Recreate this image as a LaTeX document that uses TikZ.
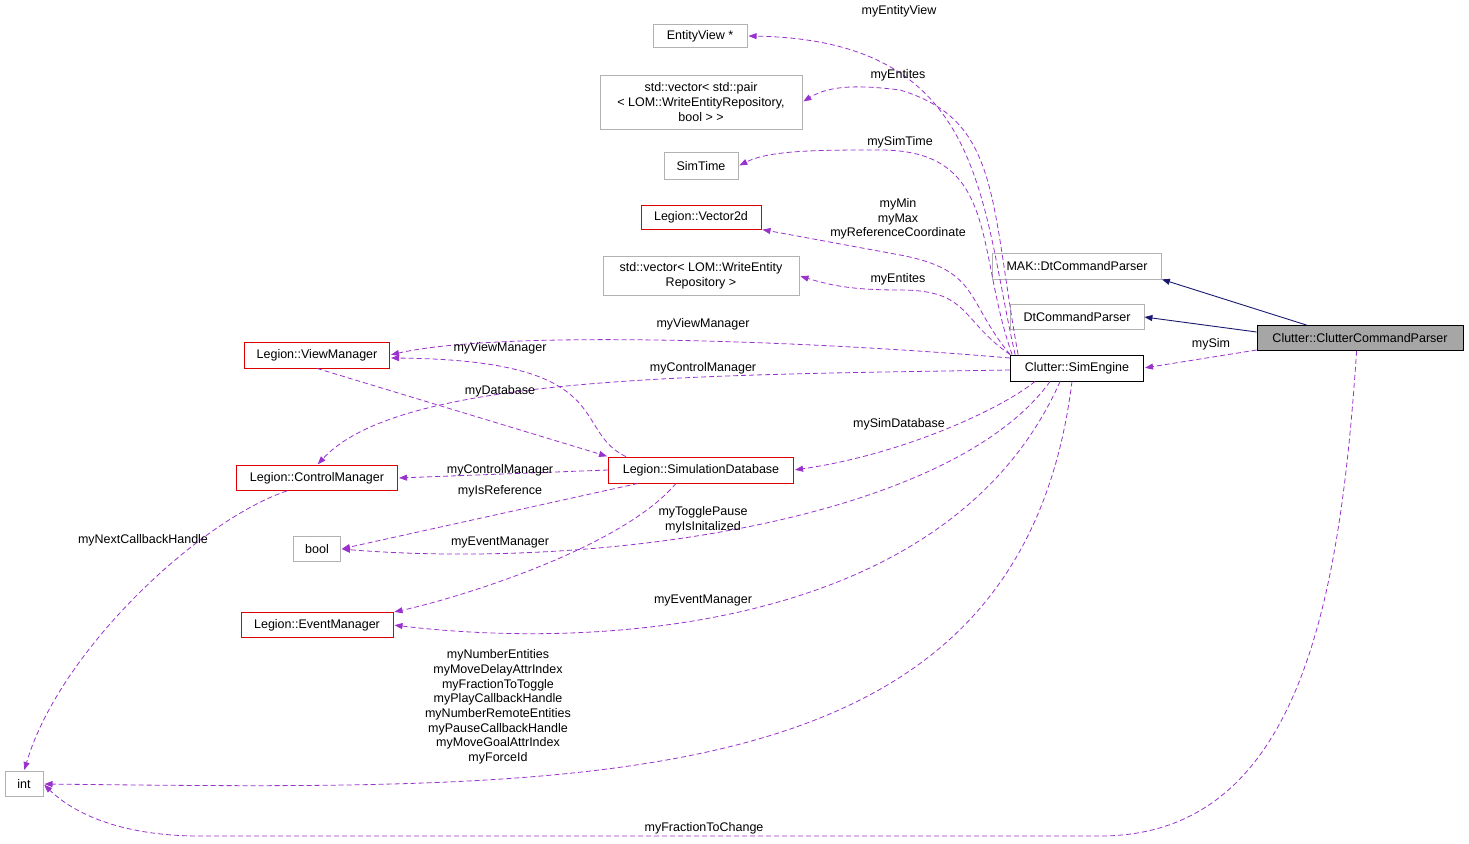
\documentclass[tikz,border=0pt]{standalone}
\usepackage{fontspec}
\setmainfont{Liberation Sans}
\usetikzlibrary{arrows.meta}
\definecolor{edg}{RGB}{153,50,204}
\definecolor{navy}{RGB}{25,25,112}
\definecolor{rbox}{RGB}{220,0,0}
\begin{document}
\begin{tikzpicture}[x=1pt,y=-1pt,
 every node/.style={font=\fontsize{12.5}{14.7}\selectfont},
 box/.style={draw=black!30,fill=white,inner sep=0pt,align=center,line width=0.8pt},
 redbox/.style={box,draw=rbox},
 cls/.style={box,draw=black},
 rel/.style={draw=edg,line width=0.8pt,dash pattern=on 5pt off 3pt,-{Triangle[length=8pt,width=6pt,fill=edg,sep]}},
 inh/.style={draw=navy,line width=0.9pt,-{Triangle[length=8pt,width=6pt,fill=navy]}},
 lab/.style={inner sep=0pt,align=center}]
\useasboundingbox (0,0) rectangle (1469,843);
\node[box,minimum width=94,minimum height=23] (ev) at (700,36) {EntityView *};
\node[box,minimum width=202,minimum height=54] (vp) at (701,102) {std::vector< std::pair\\< LOM::WriteEntityRepository,\\bool > >};
\node[box,minimum width=74,minimum height=27] (st) at (701,166) {SimTime};
\node[box,draw=rbox,minimum width=120,minimum height=24] (v2) at (701,217) {Legion::Vector2d};
\node[box,minimum width=196,minimum height=39] (vw) at (701,276) {std::vector< LOM::WriteEntity\\Repository >};
\node[box,minimum width=169,minimum height=26] (mak) at (1077,266) {MAK::DtCommandParser};
\node[box,minimum width=134,minimum height=25] (dt) at (1077,317) {DtCommandParser};
\node[box,draw=black,fill=black!35,minimum width=206,minimum height=25] (ccp) at (1360,338) {Clutter::ClutterCommandParser};
\node[cls,minimum width=133,minimum height=26] (se) at (1077,368) {Clutter::SimEngine};
\node[redbox,minimum width=145,minimum height=26] (vm) at (317,355) {Legion::ViewManager};
\node[redbox,minimum width=185,minimum height=26] (sd) at (701,470) {Legion::SimulationDatabase};
\node[redbox,minimum width=161,minimum height=25] (cm) at (317,478) {Legion::ControlManager};
\node[box,minimum width=47,minimum height=25] (bo) at (317,549) {bool};
\node[redbox,minimum width=152,minimum height=25] (em) at (317,625) {Legion::EventManager};
\node[box,minimum width=38,minimum height=25] (in) at (24,784) {int};

\draw[inh] (ccp.north west)+(50,0) -- (mak.south east);
\draw[inh] (ccp.west)+(0,-6) -- (dt.east);
\draw[rel] (ccp.west)+(0,12) -- (se.east);
\node[lab] at (1211,344) {mySim};
\draw[rel] (ccp.south west)+(100,0) .. controls (1340,600) and (1300,836) .. (1100,836) -- (200,836) .. controls (100,836) and (60,800) .. (in.east);
\node[lab] at (704,828) {myFractionToChange};

\draw[rel] (se.north west)+(5,0) .. controls (980,200) and (985,40) .. (ev.east) ;
\node[lab] at (899,11) {myEntityView};
\draw[rel] (se.north west)+(8,0) .. controls (990,200) and (1000,120) .. (900,90) .. controls (860,85) and (830,85) .. (vp.east);
\node[lab] at (898,75) {myEntites};
\draw[rel] (se.north west)+(2,0) .. controls (975,250) and (1000,150) .. (880,150) .. controls (820,150) and (770,150) .. (st.east);
\node[lab] at (900,142) {mySimTime};
\draw[rel] (se.north west)+(0,0) .. controls (965,300) and (980,270) .. (900,255) -- (v2.south east);
\node[lab] at (898,219) {myMin\\myMax\\myReferenceCoordinate};
\draw[rel] (se.north west) .. controls (960,320) and (970,290) .. (900,290) .. controls (850,290) and (830,285) .. (vw.east);
\node[lab] at (898,279) {myEntites};
\draw[rel] (se.west)+(0,-10) .. controls (800,340) and (500,330) .. (vm.east);
\node[lab] at (703,324) {myViewManager};
\draw[rel] (se.west)+(0,2) .. controls (700,375) and (400,375) .. (cm.north);
\node[lab] at (703,368) {myControlManager};
\draw[rel] (se.south west)+(25,0) .. controls (1000,410) and (900,455) .. (sd.east);
\node[lab] at (899,424) {mySimDatabase};
\draw[rel] (se.south west)+(40,0) .. controls (950,520) and (600,570) .. (bo.east);
\node[lab] at (703,520) {myTogglePause\\myIsInitalized};
\draw[rel] (se.south west)+(50,0) .. controls (950,630) and (600,650) .. (em.east);
\node[lab] at (703,600) {myEventManager};
\draw[rel] (se.south)+(-5,0) .. controls (1020,800) and (600,790) .. (in.east);
\node[lab] at (498,707) {myNumberEntities\\myMoveDelayAttrIndex\\myFractionToToggle\\myPlayCallbackHandle\\myNumberRemoteEntities\\myPauseCallbackHandle\\myMoveGoalAttrIndex\\myForceId};

\draw[rel] (vm.south) -- (sd.west |- sd.north) ;
\node[lab] at (500,391) {myDatabase};
\draw[rel] (sd.north)+(-75,0) .. controls (570,430) and (620,360) .. (vm.east |- 0,358);
\node[lab] at (500,348) {myViewManager};
\draw[rel] (sd.west) -- (cm.east);
\node[lab] at (500,470) {myControlManager};
\draw[rel] (sd.south west)+(30,0) -- (bo.east);
\node[lab] at (500,491) {myIsReference};
\draw[rel] (sd.south)+(-25,0) .. controls (620,550) and (450,600) .. (em.north east);
\node[lab] at (500,542) {myEventManager};
\draw[rel] (cm.south)+(-30,0) .. controls (200,520) and (60,650) .. (in.north);
\node[lab] at (143,540) {myNextCallbackHandle};
\end{tikzpicture}
\end{document}
